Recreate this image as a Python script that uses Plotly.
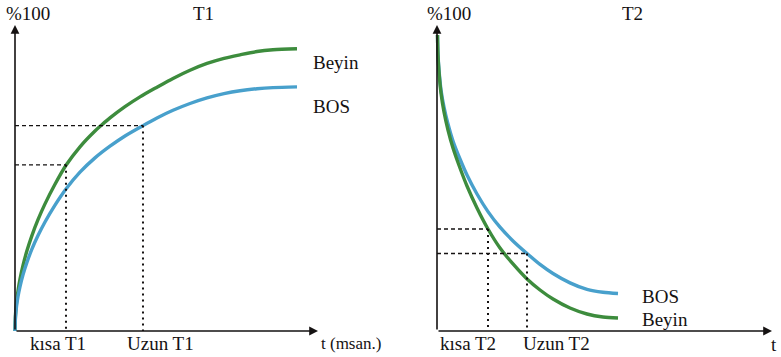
import plotly.graph_objects as go

# ---------------- data ----------------
# Left panel: T1 recovery (time along axis 0-100, signal in % 0-100)
t1_beyin_x = [0, 0.165, 0.495, 0.99, 1.65, 2.64, 3.96, 5.61, 7.59, 9.90, 13.20, 16.83, 21.45, 26.40,
              28.71, 31.35, 36.30, 41.25, 46.86, 52.15, 57.76, 63.37, 68.98, 74.26, 79.87, 85.15, 93.07]
t1_beyin_y = [0, 5.36, 9.28, 13.14, 16.96, 21.44, 26.27, 31.27, 36.37, 41.54, 47.94, 54.15, 60.20, 65.36,
              67.42, 69.64, 73.30, 76.50, 79.67, 82.55, 85.23, 87.45, 89.12, 90.26, 91.34, 91.90, 92.22]
t1_bos_x = [0, 0.165, 0.495, 0.99, 1.65, 2.64, 3.96, 5.61, 7.59, 9.90, 13.20, 16.83, 21.45, 26.40,
            31.35, 36.30, 42.24, 46.86, 52.15, 57.76, 63.37, 68.98, 74.26, 79.87, 85.15, 93.07]
t1_bos_y = [0, 4.61, 7.97, 11.27, 14.54, 18.40, 22.52, 26.83, 31.18, 35.62, 41.14, 46.41, 51.90, 56.57,
            60.39, 63.73, 67.12, 69.61, 72.12, 74.35, 76.18, 77.58, 78.53, 79.18, 79.54, 79.77]
t1_marks_x = [16.83, 42.24]
t1_marks_y = [54.3, 67.12]
t1_mark_labels = ["kısa T1", "Uzun T1"]

# Right panel: T2 decay
t2_x = [0.149, 0.299, 0.597, 1.194, 2.090, 3.284, 4.776, 6.866, 8.955, 11.94, 15.22, 18.81, 22.69,
        26.87, 30.75, 34.63, 39.70, 44.78, 49.55, 54.03]
t2_beyin_y = [96.73, 90.20, 84.64, 77.78, 71.57, 65.69, 59.80, 53.27, 47.39, 40.20, 33.33, 27.12, 21.90,
              16.99, 13.40, 10.46, 7.52, 5.56, 4.58, 4.25]
t2_bos_y = [96.73, 90.52, 85.29, 78.76, 73.20, 67.65, 62.09, 56.21, 50.98, 44.77, 39.02, 33.92, 29.44,
            25.33, 21.76, 18.79, 15.72, 13.59, 12.65, 12.25]
t2_marks_x = [15.22, 26.87]
t2_marks_y = [33.33, 25.33]
t2_mark_labels = ["kısa T2", "Uzun T2"]

panel_titles = ["T1", "T2"]
y_label = "%100"
x_labels = ["t (msan.)", "t"]
series_names = ["Beyin", "BOS"]

# ---------------- styling ----------------
W, H = 781, 357
GREEN = "#3d8c3d"
BLUE = "#48a0cc"
INK = "#151212"
FONT = "Times New Roman, Liberation Serif, serif"
FS = 19


def px(x):
    return x / W


def py(y):
    return 1 - y / H


fig = go.Figure()

curve_style = dict(mode="lines", line_shape="spline", hoverinfo="skip", showlegend=False)
fig.add_trace(go.Scatter(x=t1_beyin_x, y=t1_beyin_y, line=dict(color=GREEN, width=3.4, smoothing=0.8),
                         xaxis="x", yaxis="y", **curve_style))
fig.add_trace(go.Scatter(x=t1_bos_x, y=t1_bos_y, line=dict(color=BLUE, width=3.4, smoothing=0.8),
                         xaxis="x", yaxis="y", **curve_style))
fig.add_trace(go.Scatter(x=t2_x, y=t2_bos_y, line=dict(color=BLUE, width=3.4, smoothing=0.8),
                         xaxis="x2", yaxis="y2", **curve_style))
fig.add_trace(go.Scatter(x=t2_x, y=t2_beyin_y, line=dict(color=GREEN, width=3.4, smoothing=0.8),
                         xaxis="x2", yaxis="y2", **curve_style))

# dashed guide lines
for mx, my, xa, ya in [(t1_marks_x, t1_marks_y, "x", "y"), (t2_marks_x, t2_marks_y, "x2", "y2")]:
    for xv, yv in zip(mx, my):
        fig.add_trace(go.Scatter(x=[0, xv], y=[yv, yv], mode="lines", xaxis=xa, yaxis=ya,
                                 line=dict(color=INK, width=1.4, dash="4px,3px"),
                                 hoverinfo="skip", showlegend=False))
        fig.add_trace(go.Scatter(x=[xv, xv], y=[yv, 0], mode="lines", xaxis=xa, yaxis=ya,
                                 line=dict(color=INK, width=2, dash="2px,4px"),
                                 hoverinfo="skip", showlegend=False))

annotations = []
# axis arrows
for xa, ya in [("x", "y"), ("x2", "y2")]:
    for hx, hy in [(0, 100), (100, 0)]:
        annotations.append(dict(x=hx, y=hy, ax=0, ay=0, xref=xa, yref=ya, axref=xa, ayref=ya,
                                text="", showarrow=True, arrowhead=2, arrowsize=1.1,
                                arrowwidth=1.6, arrowcolor=INK, standoff=0, startstandoff=0))


def label(text, x, y, anchor="center", size=FS):
    annotations.append(dict(text=text, x=px(x), y=py(y), xref="paper", yref="paper",
                            xanchor=anchor, yanchor="middle", showarrow=False,
                            font=dict(family=FONT, size=size, color=INK)))


label(y_label, 28, 14)
label(panel_titles[0], 203, 14)
label(y_label, 449, 14)
label(panel_titles[1], 632, 14)
label(series_names[0], 311, 62, "left")
label(series_names[1], 311, 106, "left")
label(series_names[1], 640, 296, "left")
label(series_names[0], 640, 319, "left")
label(t1_mark_labels[0], 58, 343)
label(t1_mark_labels[1], 160, 343)
label(x_labels[0], 319, 343, "left", 17)
label(t2_mark_labels[0], 468, 343)
label(t2_mark_labels[1], 556, 343)
label(x_labels[1], 774, 344)

# pixel-calibrated axes (axis origin at px 15 / 437, baseline at py 331, top at py 25)
fig.update_layout(
    width=W, height=H, autosize=False,
    margin=dict(l=0, r=0, t=0, b=0),
    paper_bgcolor="white", plot_bgcolor="white",
    annotations=annotations,
    xaxis=dict(domain=[0, 0.5], range=[-15 / 3.03, (W / 2 - 15) / 3.03], visible=False),
    yaxis=dict(domain=[0, 1], range=[(331 - H) / 3.06, 331 / 3.06], visible=False),
    xaxis2=dict(domain=[0.5, 1], range=[(W / 2 - 437) / 3.35, (W - 437) / 3.35], visible=False),
    yaxis2=dict(domain=[0, 1], range=[(331 - H) / 3.06, 331 / 3.06], visible=False, anchor="x2"),
)

fig.write_html("out.html",
               config={"displayModeBar": False, "staticPlot": True},
               post_script="document.body.style.margin='0px';document.body.style.padding='0px';"
                           "document.body.style.overflow='hidden';")
